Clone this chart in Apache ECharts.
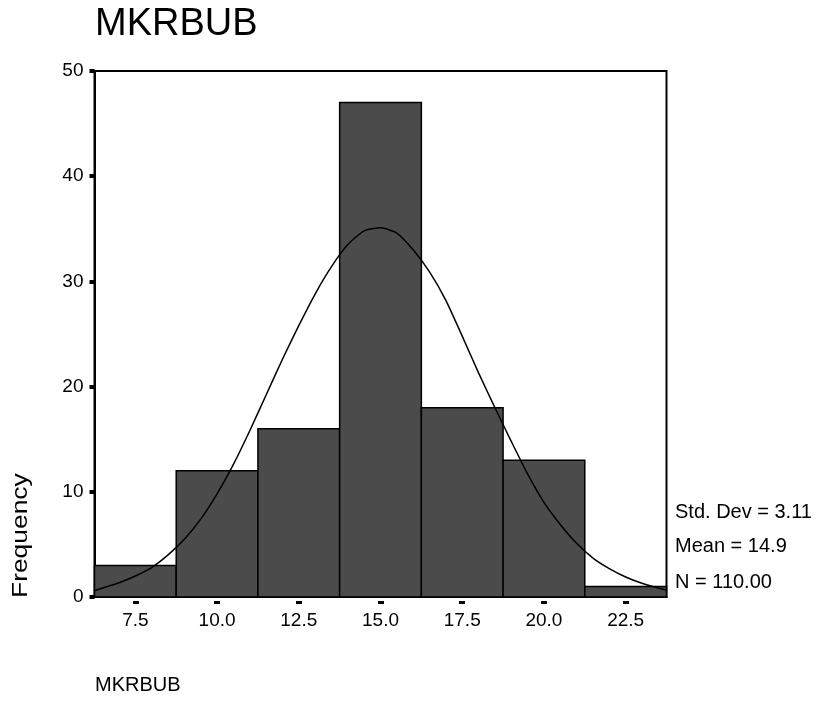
<!DOCTYPE html>
<html>
<head>
<meta charset="utf-8">
<title>MKRBUB</title>
<script src="https://cdn.jsdelivr.net/npm/echarts@6/dist/echarts.min.js"></script>
<style>
  html, body { margin: 0; padding: 0; background: #fff; }
  #chart { width: 821px; height: 703px; }
</style>
</head>
<body>
<div id="chart"></div>
<script>
// Histogram bins (centre of each 2.5-wide bin) and counts
const binCenters = [7.5, 10.0, 12.5, 15.0, 17.5, 20.0, 22.5];
const binWidth = 2.5;
const frequencies = [3, 12, 16, 47, 18, 13, 1];

// Fitted normal curve, sampled along the x range
const curveX = [6.25, 6.5, 7.0, 7.5, 8.0, 8.5, 9.0, 9.5, 10.0, 10.5, 11.0, 11.5, 12.0, 12.5,
  13.0, 13.5, 14.0, 14.5, 15.0, 15.5, 16.0, 16.5, 17.0, 17.5, 18.0, 18.5, 19.0, 19.5,
  20.0, 20.5, 21.0, 21.5, 22.0, 22.5, 23.0, 23.5, 23.75];
const curveY = [0.6, 0.85, 1.35, 2.0, 2.8, 4.0, 5.5, 7.4, 9.8, 12.6, 15.8, 19.2, 22.6, 25.8,
  28.8, 31.4, 33.5, 34.8, 35.1, 34.6, 33.0, 30.9, 28.2, 24.8, 21.3, 18.0, 14.8, 11.7,
  9.0, 6.9, 5.1, 3.7, 2.7, 1.9, 1.3, 0.85, 0.65];

// Axis ticks
const xTicks = [7.5, 10.0, 12.5, 15.0, 17.5, 20.0, 22.5];
const yTicks = [0, 10, 20, 30, 40, 50];

// Summary statistics
const stats = ['Std. Dev = 3.11', 'Mean = 14.9', 'N = 110.00'];
const titleText = 'MKRBUB';
const xName = 'MKRBUB';
const yName = 'Frequency';

const barData = binCenters.map((c, i) => [c - binWidth / 2, c + binWidth / 2, frequencies[i]]);
const lineData = curveX.map((x, i) => [x, curveY[i]]);

const FONT = 'Liberation Sans, Arial, sans-serif';
const chart = echarts.init(document.getElementById('chart'), null, { renderer: 'canvas' });

const xMin = binCenters[0] - binWidth / 2;
const xMax = binCenters[binCenters.length - 1] + binWidth / 2;

chart.setOption({
  animation: false,
  backgroundColor: '#ffffff',
  grid: {
    left: 94.5, right: 154.5, top: 71, bottom: 106,
    show: true, borderColor: '#000', borderWidth: 2,
    outerBoundsMode: 'none'
  },
  xAxis: [{
    type: 'value', min: xMin, max: xMax,
    axisLine: { show: true, lineStyle: { color: '#000', width: 2 } },
    axisTick: { show: false },
    splitLine: { show: false },
    axisLabel: {
      customValues: xTicks, margin: 14,
      color: '#000', fontFamily: FONT, fontSize: 19,
      formatter: v => v.toFixed(1)
    }
  }, {
    // tick marks set slightly below the axis line
    type: 'value', min: xMin, max: xMax, position: 'bottom', offset: 4,
    axisLine: { show: false },
    axisTick: { show: true, customValues: xTicks, length: 3, lineStyle: { color: '#000', width: 6 } },
    axisLabel: { show: false },
    splitLine: { show: false }
  }],
  yAxis: {
    type: 'value', min: yTicks[0], max: yTicks[yTicks.length - 1], interval: 10,
    axisLine: { show: true, lineStyle: { color: '#000', width: 2 } },
    axisTick: { show: true, length: 5, lineStyle: { color: '#000', width: 4 } },
    splitLine: { show: false },
    axisLabel: { margin: 11, color: '#000', fontFamily: FONT, fontSize: 19 }
  },
  series: [{
    type: 'custom',
    data: barData,
    z: 2,
    renderItem: function (params, api) {
      const p0 = api.coord([api.value(0), api.value(2)]);
      const p1 = api.coord([api.value(1), 0]);
      return {
        type: 'rect',
        shape: { x: p0[0], y: p0[1], width: p1[0] - p0[0], height: p1[1] - p0[1] },
        style: { fill: '#4b4b4b', stroke: '#000', lineWidth: 1.5 }
      };
    }
  }, {
    type: 'line',
    data: lineData,
    z: 3,
    smooth: 0.2,
    showSymbol: false,
    lineStyle: { color: '#000', width: 1.5 }
  }],
  graphic: [
    { type: 'text', x: 95, y: 25, style: { text: titleText, font: '38px ' + FONT, fill: '#000', textVerticalAlign: 'middle' } },
    { type: 'text', x: 675, y: 512, style: { text: stats[0], font: '20px ' + FONT, fill: '#000', textVerticalAlign: 'middle' } },
    { type: 'text', x: 675, y: 546, style: { text: stats[1], font: '20px ' + FONT, fill: '#000', textVerticalAlign: 'middle' } },
    { type: 'text', x: 675, y: 582, style: { text: stats[2], font: '20px ' + FONT, fill: '#000', textVerticalAlign: 'middle' } },
    { type: 'text', x: 21, y: 598, rotation: Math.PI / 2, scaleX: 1.2,
      style: { text: yName, font: '22px ' + FONT, fill: '#000', textAlign: 'left', textVerticalAlign: 'middle' } },
    { type: 'text', x: 95, y: 685, style: { text: xName, font: '20px ' + FONT, fill: '#000', textVerticalAlign: 'middle' } }
  ]
});
</script>
</body>
</html>
